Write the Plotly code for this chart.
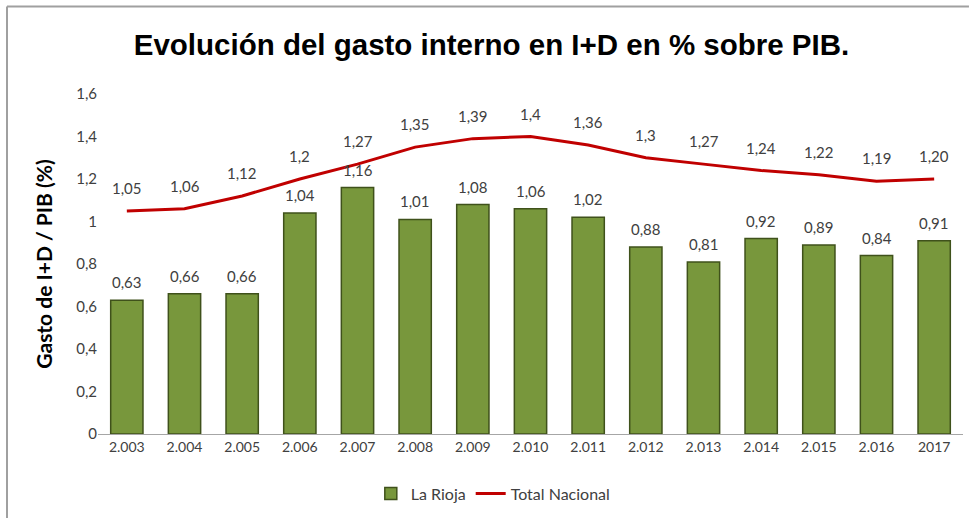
import plotly.graph_objects as go

categories = ["2.003", "2.004", "2.005", "2.006", "2.007", "2.008", "2.009", "2.010",
              "2.011", "2.012", "2.013", "2.014", "2.015", "2.016", "2017"]
la_rioja = [0.63, 0.66, 0.66, 1.04, 1.16, 1.01, 1.08, 1.06, 1.02, 0.88, 0.81, 0.92, 0.89, 0.84, 0.91]
la_rioja_labels = ["0,63", "0,66", "0,66", "1,04", "1,16", "1,01", "1,08", "1,06", "1,02",
                   "0,88", "0,81", "0,92", "0,89", "0,84", "0,91"]
total_nacional = [1.05, 1.06, 1.12, 1.2, 1.27, 1.35, 1.39, 1.4, 1.36, 1.3, 1.27, 1.24, 1.22, 1.19, 1.20]
total_labels = ["1,05", "1,06", "1,12", "1,2", "1,27", "1,35", "1,39", "1,4", "1,36",
                "1,3", "1,27", "1,24", "1,22", "1,19", "1,20"]
y_ticks = [0, 0.2, 0.4, 0.6, 0.8, 1, 1.2, 1.4, 1.6]
y_tick_text = ["0", "0,2", "0,4", "0,6", "0,8", "1", "1,2", "1,4", "1,6"]

FONT = "Lato, 'Open Sans', sans-serif"
TXT = "#404040"

xpos = list(range(len(categories)))

fig = go.Figure()
fig.add_trace(go.Bar(
    x=xpos, y=la_rioja, name="La Rioja",
    marker=dict(color="#78973c", line=dict(color="#3f511b", width=1.5)),
))
fig.add_trace(go.Scatter(
    x=xpos, y=total_nacional, name="Total Nacional", mode="lines",
    line=dict(color="#c00000", width=3),
))

annotations = []
for i, v, t in zip(xpos, la_rioja, la_rioja_labels):
    annotations.append(dict(x=i, y=v, text=t, showarrow=False, yanchor="bottom",
                            yshift=7, font=dict(family=FONT, size=15, color=TXT)))
for i, v, t in zip(xpos, total_nacional, total_labels):
    annotations.append(dict(x=i, y=v, text=t, showarrow=False, yanchor="bottom",
                            yshift=12, font=dict(family=FONT, size=15, color=TXT)))

frame_color = "#a0a0a0"
fig.update_layout(
    width=969, height=518,
    paper_bgcolor="white", plot_bgcolor="white",
    margin=dict(l=98, r=6, t=94, b=84),
    bargap=0.44,
    title=dict(text="<b>Evolución del gasto interno en I+D en % sobre PIB.</b>",
               x=491.5 / 969, xanchor="center", y=1 - 45 / 518, yanchor="middle",
               font=dict(family="'Liberation Sans', Arial, sans-serif", size=29.5, color="black")),
    showlegend=True,
    legend=dict(orientation="h", x=0.457, xanchor="center", y=-0.125, yanchor="top",
                font=dict(family=FONT, size=16, color=TXT), traceorder="normal"),
    annotations=annotations,
    xaxis=dict(range=[-0.5, len(categories) - 0.5], tickvals=xpos, ticktext=categories,
               showline=True, linecolor="#a6a6a6", linewidth=1, zeroline=False,
               ticks="", tickfont=dict(family=FONT, size=14, color=TXT), showgrid=False),
    yaxis=dict(range=[0, 1.6], tickvals=y_ticks, ticktext=y_tick_text, showgrid=False,
               zeroline=False, showline=False, ticks="", ticklen=0,
               tickfont=dict(family=FONT, size=15, color=TXT),
               title=dict(text="<b>Gasto de I+D / PIB (%)</b>", standoff=17,
                          font=dict(family=FONT, size=21, color="black"))),
    shapes=[
        dict(type="line", xref="paper", yref="paper", x0=-0.1052, x1=1.0069, y0=1.2574, y1=1.2574,
             line=dict(color=frame_color, width=2)),
        dict(type="line", xref="paper", yref="paper", x0=-0.1052, x1=-0.1052, y0=-0.247, y1=1.2574,
             line=dict(color=frame_color, width=2)),
    ],
)

fig.write_html("out.html", config={"displayModeBar": False},
               post_script="document.body.style.margin='0px';")
